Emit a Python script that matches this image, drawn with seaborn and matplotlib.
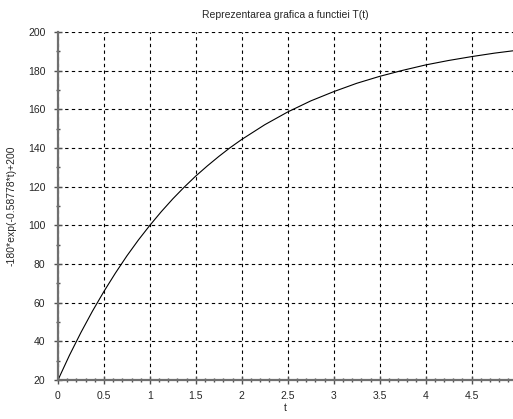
import matplotlib
matplotlib.use("Agg")
import matplotlib.pyplot as plt
import numpy as np
import pandas as pd
import seaborn as sns
from matplotlib.ticker import MultipleLocator

# values
t_values = [0.0, 0.125, 0.25, 0.375, 0.5, 0.625, 0.75, 0.875, 1.0, 1.125, 1.25,
            1.375, 1.5, 1.625, 1.75, 1.875, 2.0, 2.25, 2.5, 2.75,
            3.0, 3.25, 3.5, 3.75, 4.0, 4.25, 4.5, 4.75, 4.95]
temp_values = [20.0, 32.8, 44.6, 55.6, 65.8, 75.3, 84.2, 92.4, 100.0, 107.1, 113.7,
               119.8, 125.5, 130.7, 135.6, 140.2, 144.4, 152.0, 158.6, 164.3,
               169.1, 173.4, 177.0, 180.1, 182.9, 185.2, 187.2, 189.0, 190.2]

title = "Reprezentarea grafica a functiei T(t)"
xlabel = "t"
ylabel = "-180*exp(-0.58778*t)+200"

sns.set_style("white")
plt.rcParams["font.family"] = ["Liberation Sans", "DejaVu Sans"]

df = pd.DataFrame({"t": t_values, "T": temp_values})

fig = plt.figure(figsize=(5.13, 4.19), dpi=100)
ax = fig.add_axes([0.113, 0.093, 0.887, 0.831])

sns.lineplot(data=df, x="t", y="T", color="black", linewidth=0.8, ax=ax)

ax.set_xlim(0, 4.95)
ax.set_ylim(20, 200)
ax.xaxis.set_major_locator(MultipleLocator(0.5))
ax.xaxis.set_minor_locator(MultipleLocator(0.1))
ax.yaxis.set_major_locator(MultipleLocator(20))
ax.yaxis.set_minor_locator(MultipleLocator(10))
ax.set_xticks(np.arange(0, 4.96, 0.5))
ax.set_xticklabels(["0", "0.5", "1", "1.5", "2", "2.5", "3", "3.5", "4", "4.5"])

ax.grid(True, which="major", color="black", linestyle=(0, (3, 3)), linewidth=0.8)

for side in ["top", "right"]:
    ax.spines[side].set_visible(False)
for side in ["left", "bottom"]:
    ax.spines[side].set_color("#707070")
    ax.spines[side].set_linewidth(1.6)

ax.tick_params(which="both", bottom=True, left=True)
ax.tick_params(which="major", direction="inout", length=6, width=1.0,
               color="#505050", labelsize=7.5, pad=5)
ax.tick_params(which="minor", direction="inout", length=2.5, width=1.0,
               color="#505050")
ax.tick_params(axis="y", pad=6)

ax.set_title(title, fontsize=7.5, pad=10)
ax.set_xlabel(xlabel, fontsize=7.5, labelpad=1)
ax.set_ylabel(ylabel, fontsize=7.5, labelpad=8)

fig.savefig("out.png", dpi=100)
plt.close(fig)
